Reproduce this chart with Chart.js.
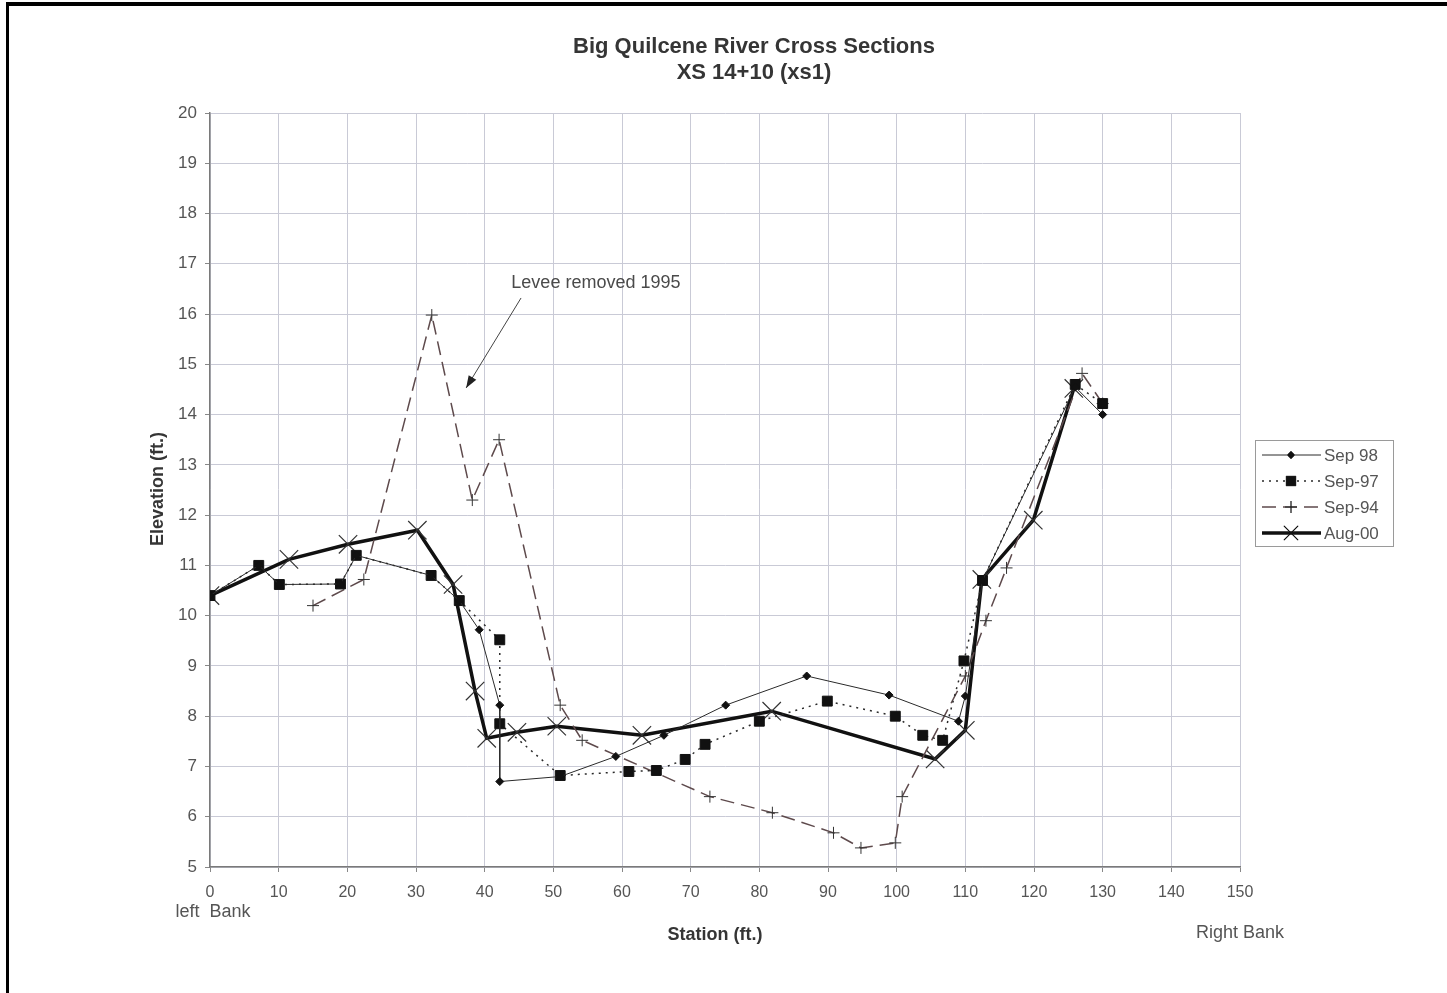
<!DOCTYPE html>
<html>
<head>
<meta charset="utf-8">
<title>Big Quilcene River Cross Sections</title>
<script src="https://cdn.jsdelivr.net/npm/chart.js@4.4.1/dist/chart.umd.min.js"></script>
<style>
    html, body { margin: 0; padding: 0; background: #fff; }
    #wrap { width: 1447px; height: 993px; position: relative; }
</style>
</head>
<body>
<div id="wrap"><canvas id="xsChart" width="1447" height="993"></canvas></div>
<script>
// Survey data (station ft, elevation ft)
const sep98Station = [0, 7.1, 10.1, 19, 21.3, 32.2, 36.3, 39.2, 42.2, 42.2, 51, 59.1, 66.1, 75.1, 86.9, 98.9, 109, 110, 112.5, 126, 130];
const sep98Elev    = [10.4, 11.0, 10.62, 10.63, 11.2, 10.8, 10.3, 9.72, 8.22, 6.7, 6.8, 7.2, 7.62, 8.22, 8.8, 8.42, 7.9, 8.4, 10.7, 14.55, 14.0];

const sep97Station = [0, 7.1, 10.1, 19, 21.3, 32.2, 36.3, 42.2, 42.2, 51, 61, 65, 69.2, 72.1, 80, 89.9, 99.8, 103.8, 106.7, 109.8, 112.5, 126, 130];
const sep97Elev    = [10.4, 11.0, 10.62, 10.63, 11.2, 10.8, 10.3, 9.52, 7.85, 6.82, 6.9, 6.92, 7.14, 7.44, 7.9, 8.3, 8.0, 7.62, 7.52, 9.1, 10.7, 14.6, 14.22];

const sep94Station = [15, 22.4, 32.3, 38.2, 42.1, 51, 54.2, 72.8, 81.9, 90.8, 94.8, 99.8, 100.8, 110, 113, 116, 127, 130];
const sep94Elev    = [10.2, 10.72, 15.98, 12.3, 13.5, 8.22, 7.52, 6.4, 6.08, 5.68, 5.38, 5.48, 6.4, 8.8, 9.9, 10.95, 14.82, 14.22];

const aug00Station = [0, 11.5, 20.1, 30.2, 35.4, 38.6, 40.3, 44.7, 50.5, 62.9, 81.8, 105.6, 110, 112.4, 119.9, 125.8];
const aug00Elev    = [10.4, 11.12, 11.42, 11.7, 10.62, 8.5, 7.56, 7.68, 7.8, 7.62, 8.1, 7.15, 7.72, 10.72, 11.9, 14.52];

const seriesNames = ['Sep 98', 'Sep-97', 'Sep-94', 'Aug-00'];

const xTicks = { min: 0, max: 150, step: 10 };
const yTicks = { min: 5, max: 20, step: 1 };

const titleLines = ['Big Quilcene River Cross Sections', 'XS 14+10 (xs1)'];
const noteText = 'Levee removed 1995';
const noteAt = { x: 56.2, y: 16.62 };
const arrowFrom = { x: 45.3, y: 16.32 };
const arrowTo = { x: 37.3, y: 14.53 };

function toPoints(xs, ys) {
    return xs.map((x, i) => ({ x: x, y: ys[i] }));
}

const fontFamily = 'Arial, "Liberation Sans", Helvetica, sans-serif';

// Extra drawing: frame, titles, annotation, bank labels and legend box
const decorations = {
    id: 'decorations',
    afterDraw(chart) {
        const ctx = chart.ctx;
        const xs = chart.scales.x;
        const ys = chart.scales.y;
        ctx.save();

        // scan frame (top and left edge)
        ctx.fillStyle = '#000';
        ctx.fillRect(6, 2, 1441, 4);
        ctx.fillRect(6, 2, 3, 991);

        // titles
        ctx.fillStyle = '#353535';
        ctx.textAlign = 'center';
        ctx.textBaseline = 'middle';
        ctx.font = 'bold 22px ' + fontFamily;
        ctx.fillText(titleLines[0], 754, 47);
        ctx.fillText(titleLines[1], 754, 73);

        // axis titles
        ctx.font = 'bold 18px ' + fontFamily;
        ctx.fillText('Station (ft.)', 715, 935);
        ctx.save();
        ctx.translate(158, 489);
        ctx.rotate(-Math.PI / 2);
        ctx.fillText('Elevation (ft.)', 0, 0);
        ctx.restore();

        ctx.fillStyle = '#555';
        ctx.font = '18px ' + fontFamily;
        ctx.fillText('left  Bank', 213, 912);
        ctx.fillText('Right Bank', 1240, 933);

        // annotation
        ctx.fillStyle = '#4a4a4a';
        ctx.font = '18px ' + fontFamily;
        ctx.fillText(noteText, xs.getPixelForValue(noteAt.x), ys.getPixelForValue(noteAt.y));
        const ax = xs.getPixelForValue(arrowFrom.x), ay = ys.getPixelForValue(arrowFrom.y);
        const bx = xs.getPixelForValue(arrowTo.x), by = ys.getPixelForValue(arrowTo.y);
        ctx.strokeStyle = '#444';
        ctx.lineWidth = 1;
        ctx.beginPath();
        ctx.moveTo(ax, ay);
        ctx.lineTo(bx, by);
        ctx.stroke();
        const ang = Math.atan2(by - ay, bx - ax);
        ctx.fillStyle = '#222';
        ctx.beginPath();
        ctx.moveTo(bx, by);
        ctx.lineTo(bx - 13 * Math.cos(ang - 0.35), by - 13 * Math.sin(ang - 0.35));
        ctx.lineTo(bx - 13 * Math.cos(ang + 0.35), by - 13 * Math.sin(ang + 0.35));
        ctx.closePath();
        ctx.fill();

        // legend
        ctx.strokeStyle = '#9a9a9a';
        ctx.lineWidth = 1;
        ctx.strokeRect(1255.5, 440.5, 138, 106);
        ctx.textAlign = 'left';
        ctx.font = '17px ' + fontFamily;
        chart.data.datasets.forEach((ds, i) => {
            const y = 455 + i * 26;
            ctx.save();
            ctx.strokeStyle = ds.borderColor;
            ctx.lineWidth = ds.borderWidth;
            ctx.setLineDash(ds.borderDash || []);
            ctx.beginPath();
            ctx.moveTo(1262, y);
            ctx.lineTo(1321, y);
            ctx.stroke();
            ctx.restore();
            Chart.helpers.drawPoint(ctx, {
                pointStyle: ds.pointStyle,
                radius: ds.pointStyle === 'crossRot' ? 10 : ds.pointRadius,
                borderWidth: ds.pointBorderWidth,
                rotation: 0
            }, 1291, y);
            if (ds.pointStyle === 'cross' || ds.pointStyle === 'crossRot') {
                ctx.strokeStyle = '#111';
                ctx.lineWidth = ds.pointBorderWidth;
                ctx.stroke();
            } else {
                ctx.fillStyle = '#111';
                ctx.fill();
            }
            ctx.fillStyle = '#555';
            ctx.fillText(ds.label, 1324, y + 1);
        });

        ctx.restore();
    }
};

const ctx = document.getElementById('xsChart').getContext('2d');

const chart = new Chart(ctx, {
    type: 'scatter',
    data: {
        datasets: [
            {
                label: seriesNames[0],
                data: toPoints(sep98Station, sep98Elev),
                showLine: true,
                borderColor: '#2a2a2a',
                backgroundColor: '#111',
                borderWidth: 1,
                pointStyle: 'rectRot',
                pointRadius: 4,
                pointBorderWidth: 1,
                pointBorderColor: '#111'
            },
            {
                label: seriesNames[1],
                data: toPoints(sep97Station, sep97Elev),
                showLine: true,
                borderColor: '#2a2a2a',
                backgroundColor: '#111',
                borderWidth: 1.5,
                borderDash: [2, 5],
                pointStyle: 'rect',
                pointRadius: 7,
                pointBorderWidth: 1,
                pointBorderColor: '#111'
            },
            {
                label: seriesNames[2],
                data: toPoints(sep94Station, sep94Elev),
                showLine: true,
                borderColor: '#5e4a4c',
                backgroundColor: '#5e4a4c',
                borderWidth: 1.5,
                borderDash: [14, 7],
                pointStyle: 'cross',
                pointRadius: 6,
                pointBorderWidth: 1,
                pointBorderColor: '#333'
            },
            {
                label: seriesNames[3],
                data: toPoints(aug00Station, aug00Elev),
                showLine: true,
                borderColor: '#111',
                backgroundColor: '#111',
                borderWidth: 3.5,
                pointStyle: 'crossRot',
                pointRadius: 13,
                pointBorderWidth: 1.2,
                pointBorderColor: '#333'
            }
        ]
    },
    options: {
        responsive: false,
        animation: false,
        devicePixelRatio: 1,
        layout: {
            padding: { left: 0, top: 113, right: 207, bottom: 96 }
        },
        elements: {
            line: { tension: 0 }
        },
        scales: {
            x: {
                type: 'linear',
                min: xTicks.min,
                max: xTicks.max,
                afterFit: function(scale) { scale.height = 30; },
                grid: {
                    color: '#c9cad6',
                    lineWidth: 1,
                    tickLength: 5,
                    tickColor: '#888'
                },
                border: { color: '#7a7a7a', width: 1.5 },
                ticks: {
                    stepSize: xTicks.step,
                    color: '#555',
                    padding: 11,
                    maxRotation: 0,
                    font: { size: 16, family: fontFamily }
                }
            },
            y: {
                min: yTicks.min,
                max: yTicks.max,
                afterFit: function(scale) { scale.width = 210; },
                grid: {
                    color: '#c9cad6',
                    lineWidth: 1,
                    tickLength: 5,
                    tickColor: '#888'
                },
                border: { color: '#7a7a7a', width: 1.5 },
                ticks: {
                    stepSize: yTicks.step,
                    color: '#555',
                    padding: 8,
                    font: { size: 17, family: fontFamily }
                }
            }
        },
        plugins: {
            legend: { display: false },
            title: { display: false },
            tooltip: { enabled: false }
        }
    },
    plugins: [decorations]
});
</script>
</body>
</html>
